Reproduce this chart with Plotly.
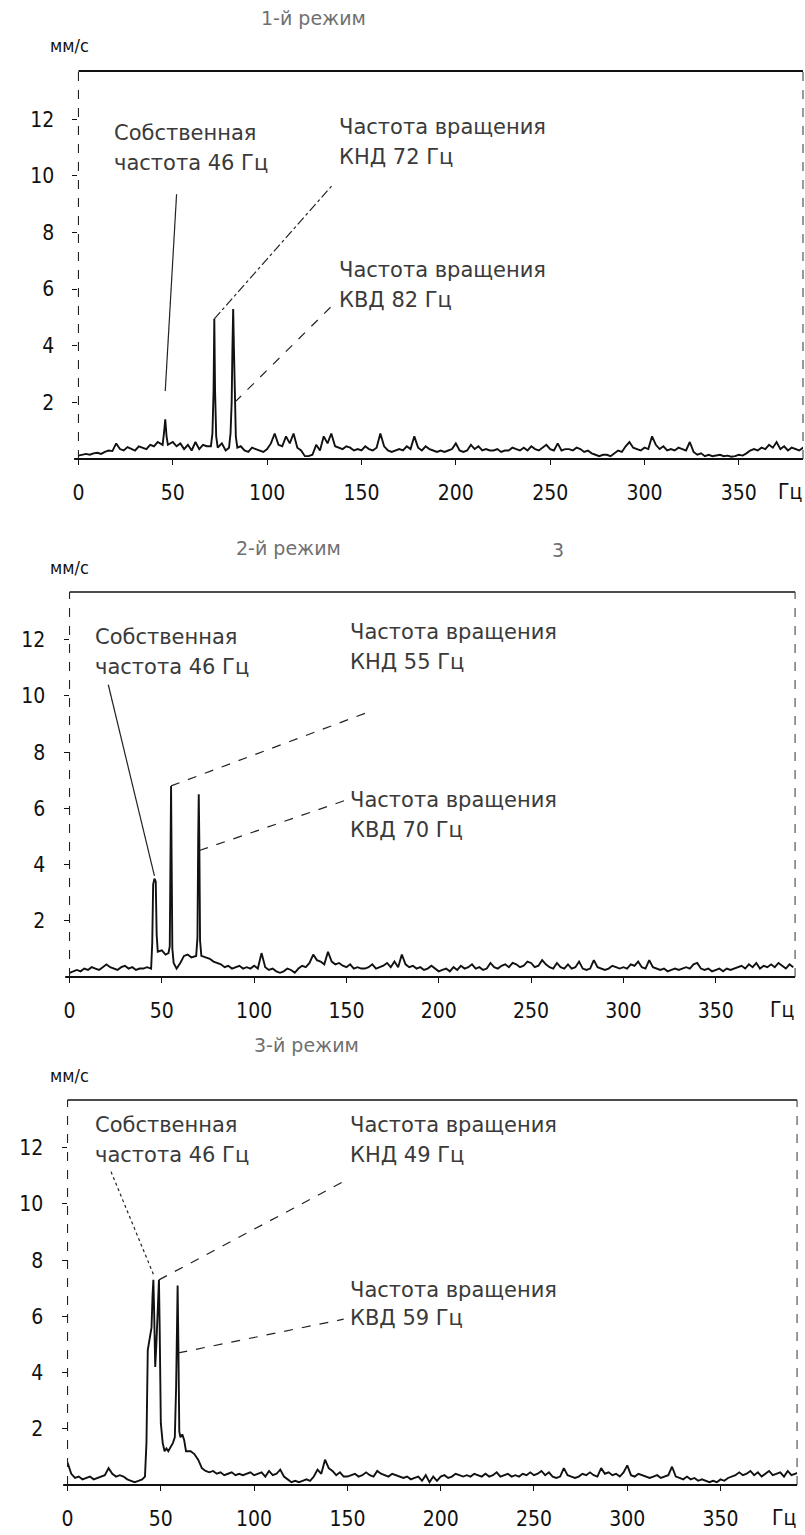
import numpy as np
import plotly.graph_objects as go

W, H = 805, 1535
STEP = 2.0  # Hz between background spectrum samples

# ---------------- 1-й режим ----------------
bg1 = [0.12, 0.15, 0.18, 0.15, 0.2, 0.22, 0.18, 0.25, 0.3, 0.28,
       0.55, 0.35, 0.3, 0.42, 0.35, 0.3, 0.45, 0.4, 0.35, 0.5,
       0.45, 0.6, 0.6, 1.0, 1.4, 0.6, 0.45, 0.55, 0.35, 0.5,
       0.3, 0.6, 0.35, 0.5, 0.45, 0.9, 0.5, 0.4, 0.55, 0.3,
       0.35, 0.8, 0.6, 0.45, 0.3, 0.25, 0.4, 0.35, 0.3, 0.25,
       0.35, 0.55, 0.9, 0.5, 0.45, 0.8, 0.55, 0.9, 0.4, 0.3,
       0.1, 0.1, 0.15, 0.5, 0.3, 0.8, 0.55, 0.9, 0.45, 0.4,
       0.35, 0.45, 0.4, 0.3, 0.35, 0.3, 0.45, 0.35, 0.3, 0.4,
       0.9, 0.45, 0.3, 0.25, 0.3, 0.35, 0.3, 0.45, 0.35, 0.8,
       0.4, 0.3, 0.45, 0.35, 0.3, 0.25, 0.3, 0.25, 0.3, 0.35,
       0.55, 0.3, 0.25, 0.3, 0.5, 0.35, 0.45, 0.3, 0.35, 0.3,
       0.3, 0.35, 0.25, 0.3, 0.3, 0.4, 0.35, 0.3, 0.4, 0.3,
       0.45, 0.35, 0.3, 0.4, 0.5, 0.35, 0.3, 0.55, 0.3, 0.35,
       0.35, 0.3, 0.4, 0.35, 0.25, 0.3, 0.2, 0.15, 0.1, 0.15,
       0.15, 0.1, 0.2, 0.3, 0.25, 0.45, 0.6, 0.4, 0.35, 0.3,
       0.4, 0.35, 0.8, 0.5, 0.35, 0.45, 0.3, 0.35, 0.3, 0.4,
       0.35, 0.3, 0.6, 0.25, 0.15, 0.2, 0.1, 0.15, 0.1, 0.12,
       0.15, 0.1, 0.12, 0.08, 0.1, 0.15, 0.12, 0.2, 0.3, 0.35,
       0.3, 0.4, 0.35, 0.5, 0.4, 0.6, 0.35, 0.45, 0.3, 0.4,
       0.35, 0.3, 0.4, 0.3]
pk1_f = [44.6, 45.3, 46.0, 46.7, 47.4,
         70.2, 71.0, 71.6, 72.0, 72.4, 73.0, 73.8,
         79.8, 80.6, 81.2, 81.6, 82.0, 82.4, 82.8, 83.4, 84.2]
pk1_a = [0.5, 0.9, 1.4, 0.8, 0.5,
         0.45, 0.9, 2.4, 4.95, 2.4, 0.8, 0.4,
         0.4, 0.9, 2.0, 3.9, 5.3, 3.9, 2.0, 0.8, 0.4]

# ---------------- 2-й режим ----------------
bg2 = [0.15, 0.2, 0.25, 0.2, 0.3, 0.25, 0.35, 0.3, 0.25, 0.35,
       0.45, 0.35, 0.3, 0.25, 0.35, 0.4, 0.3, 0.35, 0.25, 0.3,
       0.3, 0.35, 0.3, 3.5, 0.9, 0.95, 0.8, 0.85, 0.5, 0.3,
       0.5, 0.75, 0.8, 0.7, 0.8, 0.75, 0.8, 0.7, 0.65, 0.55,
       0.5, 0.45, 0.35, 0.4, 0.3, 0.35, 0.4, 0.3, 0.35, 0.3,
       0.4, 0.3, 0.85, 0.35, 0.25, 0.3, 0.2, 0.15, 0.2, 0.3,
       0.25, 0.15, 0.3, 0.4, 0.35, 0.5, 0.8, 0.6, 0.55, 0.45,
       0.9, 0.55, 0.45, 0.5, 0.4, 0.35, 0.45, 0.3, 0.35, 0.3,
       0.3, 0.35, 0.45, 0.3, 0.35, 0.4, 0.5, 0.35, 0.55, 0.35,
       0.8, 0.45, 0.35, 0.4, 0.3, 0.35, 0.25, 0.3, 0.4, 0.3,
       0.2, 0.25, 0.3, 0.2, 0.35, 0.25, 0.4, 0.3, 0.35, 0.45,
       0.3, 0.35, 0.25, 0.3, 0.5, 0.35, 0.3, 0.4, 0.45, 0.35,
       0.5, 0.45, 0.35, 0.4, 0.55, 0.5, 0.35, 0.4, 0.6, 0.45,
       0.35, 0.3, 0.5, 0.35, 0.3, 0.45, 0.3, 0.35, 0.55, 0.3,
       0.25, 0.3, 0.6, 0.35, 0.3, 0.25, 0.3, 0.4, 0.35, 0.3,
       0.35, 0.3, 0.45, 0.4, 0.55, 0.35, 0.3, 0.6, 0.35, 0.3,
       0.25, 0.3, 0.2, 0.25, 0.3, 0.25, 0.3, 0.35, 0.3, 0.45,
       0.5, 0.3, 0.25, 0.3, 0.2, 0.25, 0.3, 0.2, 0.3, 0.25,
       0.3, 0.35, 0.4, 0.3, 0.45, 0.35, 0.5, 0.3, 0.4, 0.35,
       0.45, 0.35, 0.5, 0.4, 0.3, 0.45, 0.35]
pk2_f = [44.2, 44.8, 45.3, 46.0, 46.7, 47.2, 47.8,
         53.6, 54.3, 54.7, 55.0, 55.3, 55.7, 56.4,
         68.6, 69.3, 69.7, 70.0, 70.3, 70.7, 71.4]
pk2_a = [0.3, 1.2, 3.3, 3.5, 3.4, 1.5, 0.9,
         0.85, 1.1, 4.0, 6.8, 4.2, 1.0, 0.5,
         0.75, 1.4, 4.9, 6.5, 4.9, 1.3, 0.75]

# ---------------- 3-й режим ----------------
bg3 = [0.8, 0.4, 0.25, 0.3, 0.2, 0.25, 0.3, 0.2, 0.25, 0.3,
       0.35, 0.6, 0.4, 0.3, 0.35, 0.3, 0.2, 0.15, 0.1, 0.15,
       0.2, 2.0, 5.5, 7.3, 6.5, 2.0, 1.3, 1.2, 1.5, 4.5,
       1.8, 1.7, 1.8, 1.2, 1.1, 0.9, 0.6, 0.5, 0.45, 0.5,
       0.4, 0.45, 0.35, 0.4, 0.45, 0.35, 0.4, 0.35, 0.4, 0.45,
       0.35, 0.4, 0.45, 0.3, 0.5, 0.35, 0.4, 0.55, 0.3, 0.2,
       0.1, 0.15, 0.1, 0.15, 0.2, 0.15, 0.3, 0.55, 0.4, 0.9,
       0.6, 0.5, 0.35, 0.45, 0.3, 0.3, 0.35, 0.4, 0.3, 0.35,
       0.45, 0.35, 0.3, 0.5, 0.4, 0.35, 0.3, 0.4, 0.35, 0.3,
       0.25, 0.3, 0.2, 0.25, 0.3, 0.15, 0.35, 0.1, 0.3, 0.15,
       0.3, 0.35, 0.25, 0.3, 0.4, 0.35, 0.3, 0.35, 0.3, 0.4,
       0.35, 0.3, 0.4, 0.3, 0.35, 0.45, 0.3, 0.35, 0.4, 0.3,
       0.35, 0.3, 0.4, 0.35, 0.45, 0.35, 0.4, 0.5, 0.35, 0.45,
       0.3, 0.25, 0.3, 0.6, 0.35, 0.3, 0.25, 0.3, 0.4, 0.35,
       0.45, 0.35, 0.3, 0.6, 0.4, 0.45, 0.35, 0.4, 0.3, 0.45,
       0.7, 0.35, 0.3, 0.4, 0.35, 0.3, 0.25, 0.3, 0.35, 0.25,
       0.3, 0.35, 0.65, 0.3, 0.25, 0.2, 0.3, 0.2, 0.25, 0.15,
       0.2, 0.15, 0.1, 0.15, 0.1, 0.2, 0.15, 0.25, 0.3, 0.35,
       0.45, 0.35, 0.4, 0.5, 0.35, 0.45, 0.3, 0.4, 0.5, 0.35,
       0.4, 0.45, 0.3, 0.5, 0.35, 0.4, 0.45]
pk3_f = [41.5, 42.3, 43.0, 44.0, 45.0, 45.6, 46.0, 46.4, 47.0, 47.6,
         48.3, 48.7, 49.0, 49.4, 50.0, 51.0, 52.0, 53.0,
         56.5, 57.5, 58.2, 58.6, 59.0, 59.4, 59.9, 60.5, 61.5, 62.5, 63.5]
pk3_a = [0.3, 1.5, 4.8, 5.3, 5.6, 6.8, 7.3, 6.2, 4.2, 5.0,
         6.2, 6.9, 7.3, 5.5, 2.2, 1.5, 1.2, 1.3,
         1.5, 1.7, 3.5, 6.0, 7.1, 5.0, 1.9, 1.7, 1.8, 1.6, 1.2]

x_ticks = [0, 50, 100, 150, 200, 250, 300, 350]
y_ticks = [2, 4, 6, 8, 10, 12]


def spectrum(bg, pk_f, pk_a):
    """Background samples on a fixed grid plus finely sampled peaks."""
    f_bg = np.arange(len(bg)) * STEP
    pf = np.array(pk_f)
    keep = [i for i, f in enumerate(f_bg) if np.min(np.abs(pf - f)) >= 1.0]
    f = np.concatenate([f_bg[keep], pf])
    a = np.concatenate([np.array(bg)[keep], np.array(pk_a)])
    order = np.argsort(f)
    return f[order], a[order]


def amp_at(f, a, freq):
    return float(a[np.argmin(np.abs(f - freq))])


def P(xp, yp):
    """Pixel position on the page -> paper fraction."""
    return xp / W, 1 - yp / H


# panel geometry in page pixels: (left, right, top, bottom), x range
panels = [
    dict(box=(73, 803, 71, 459), xmax=384, bg=bg1, pf=pk1_f, pa=pk1_a),
    dict(box=(64, 795, 592, 977), xmax=393, bg=bg2, pf=pk2_f, pa=pk2_a),
    dict(box=(62, 797, 1100, 1485), xmax=391, bg=bg3, pf=pk3_f, pa=pk3_a),
]
YMAX = 13.7

fig = go.Figure()
tick_font = dict(family="Liberation Sans Narrow, DejaVu Sans Condensed, sans-serif", size=21, color="#111")
label_font = dict(family="DejaVu Sans ExtraLight, DejaVu Sans, sans-serif", size=21, color="#3a3a3a")
title_font = dict(family="DejaVu Sans ExtraLight, DejaVu Sans, sans-serif", size=19, color="#707070")
unit_font = dict(family="DejaVu Sans Condensed, DejaVu Sans, sans-serif", size=18, color="#111")

specs = []
for i, p in enumerate(panels, start=1):
    l, r, t, b = p["box"]
    sfx = "" if i == 1 else str(i)
    f, a = spectrum(p["bg"], p["pf"], p["pa"])
    specs.append((f, a))
    fig.add_trace(go.Scatter(x=f, y=a, mode="lines", xaxis="x" + sfx, yaxis="y" + sfx,
                             line=dict(color="#111", width=1.9), hoverinfo="skip",
                             showlegend=False))
    xd = [l / W, r / W]
    yd = [1 - b / H, 1 - t / H]
    fig.layout["xaxis" + sfx] = dict(
        domain=xd, range=[0, p["xmax"]], anchor="y" + sfx,
        tickvals=x_ticks, ticktext=[str(v) for v in x_ticks],
        ticks="outside", ticklen=5, tickwidth=1.2, tickcolor="#111",
        showgrid=False, zeroline=False, showline=False,
        tickfont=tick_font, ticklabelstandoff=10, fixedrange=True)
    fig.layout["yaxis" + sfx] = dict(
        domain=yd, range=[0, YMAX], anchor="x" + sfx,
        tickvals=y_ticks, ticktext=[str(v) for v in y_ticks],
        ticks="outside", ticklen=5, tickwidth=1.2, tickcolor="#111",
        showgrid=False, zeroline=False, showline=False,
        tickfont=tick_font, ticklabelstandoff=14, fixedrange=True)

    xr, yr = "x" + sfx + " domain", "y" + sfx + " domain"
    # frame: heavy baseline, solid top, broken left axis and right edge
    fig.add_shape(type="line", xref=xr, yref=yr, x0=-0.006, x1=1, y0=0, y1=0,
                  line=dict(color="#111", width=2.2))
    fig.add_shape(type="line", xref=xr, yref=yr, x0=0, x1=1, y0=1, y1=1,
                  line=dict(color="#111", width=1.8 if i == 1 else 1.3))
    fig.add_shape(type="line", xref=xr, yref=yr, x0=0, x1=0, y0=0, y1=1,
                  line=dict(color="#222", width=1.1, dash="dash"))
    fig.add_shape(type="line", xref=xr, yref=yr, x0=1, x1=1, y0=0, y1=1,
                  line=dict(color="#333", width=1.0, dash="dash"))

    # unit labels
    ux, uy = P(42, t - 25)
    fig.add_annotation(x=ux, y=uy, xref="paper", yref="paper", text="мм/с",
                       showarrow=False, xanchor="left", yanchor="middle", font=unit_font)
    gx, gy = P(r - 13, b + 33)
    fig.add_annotation(x=gx, y=gy, xref="paper", yref="paper", text="Гц",
                       showarrow=False, xanchor="center", yanchor="middle", font=tick_font)

# mode titles
for txt, xp, yp in [("1-й режим", 310, 18), ("2-й режим", 285, 548),
                    ("3", 556, 550), ("3-й режим", 303, 1045)]:
    x, y = P(xp, yp)
    fig.add_annotation(x=x, y=y, xref="paper", yref="paper", text=txt,
                       showarrow=False, xanchor="center", yanchor="middle",
                       font=title_font)

# callout texts (left edge, vertical centre in page pixels)
callouts = [
    ("Собственная", 107, 133), ("частота 46 Гц", 107, 163),
    ("Частота вращения", 333, 127), ("КНД 72 Гц", 333, 157),
    ("Частота вращения", 333, 270), ("КВД 82 Гц", 333, 300),
    ("Собственная", 88, 637), ("частота 46 Гц", 88, 667),
    ("Частота вращения", 345, 632), ("КНД 55 Гц", 345, 662),
    ("Частота вращения", 345, 800), ("КВД 70 Гц", 345, 830),
    ("Собственная", 88, 1125), ("частота 46 Гц", 88, 1155),
    ("Частота вращения", 345, 1125), ("КНД 49 Гц", 345, 1155),
    ("Частота вращения", 345, 1290), ("КВД 59 Гц", 345, 1318),
]
for txt, xp, yp in callouts:
    x, y = P(xp, yp)
    fig.add_annotation(x=x, y=y, xref="paper", yref="paper", text=txt,
                       showarrow=False, xanchor="left", yanchor="middle",
                       font=label_font)

# leader lines: (panel, peak freq, offset above sample, far end freq, far end value, dash)
leaders = [
    (1, 46.0, 1.0, 52, 9.35, "solid"),
    (1, 72.0, 0.0, 135, 9.7, "dashdot"),
    (1, 82.8, 0.0, 135, 5.45, "dash"),
    (2, 46.0, 0.1, 21, 10.4, "solid"),
    (2, 55.0, 0.0, 162, 9.43, "dash"),
    (2, 70.3, -0.4, 150, 6.3, "dash"),
    (3, 46.0, 0.2, 23, 11.2, "dot"),
    (3, 49.0, 0.0, 148, 10.8, "dash"),
    (3, 59.4, -0.3, 148, 5.9, "dash"),
]
for n, fq, off, fx, fy, dash in leaders:
    f, a = specs[n - 1]
    sfx = "" if n == 1 else str(n)
    fig.add_shape(type="line", xref="x" + sfx, yref="y" + sfx,
                  x0=fq, y0=amp_at(f, a, fq) + off, x1=fx, y1=fy,
                  line=dict(color="#222", width=1.2, dash=dash))

fig.update_layout(width=W, height=H, margin=dict(l=0, r=0, t=0, b=0),
                  paper_bgcolor="white", plot_bgcolor="white", showlegend=False)

fig.write_html("out.html", config={"displayModeBar": False})
